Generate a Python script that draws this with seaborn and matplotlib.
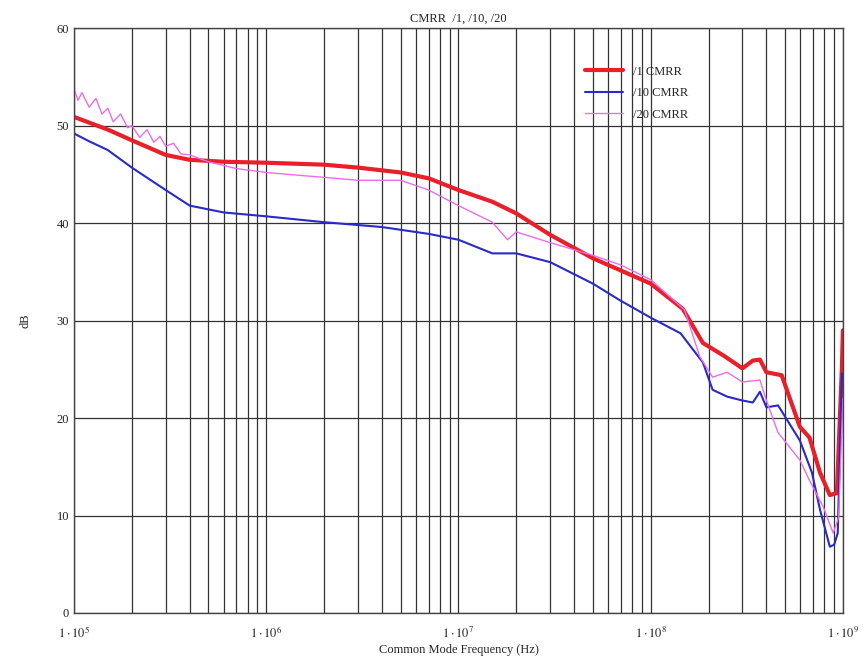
import numpy as np
import pandas as pd
import matplotlib
matplotlib.use("Agg")
import matplotlib.pyplot as plt
import seaborn as sns

# frequencies (Hz) and CMRR (dB)
f1 = [1e5, 1.5e5, 2e5, 3e5, 4e5, 6e5, 1e6, 2e6, 3e6, 5e6, 7e6, 1e7, 1.5e7, 2e7, 3e7,
      5e7, 1e8, 1.47e8, 1.87e8, 2.4e8, 3.0e8, 3.4e8, 3.7e8, 4.0e8, 4.8e8, 5.97e8,
      6.7e8, 7.6e8, 8.55e8, 9.3e8, 9.88e8, 1e9]
cmrr1 = [50.9, 49.6, 48.5, 47.0, 46.5, 46.3, 46.2, 46.0, 45.7, 45.2, 44.6, 43.4, 42.2, 41.0,
         38.8, 36.4, 33.8, 31.2, 27.7, 26.4, 25.1, 25.9, 26.0, 24.7, 24.4, 19.1,
         18.0, 14.4, 12.1, 12.3, 25.2, 29.0]

f10 = [1e5, 1.2e5, 1.5e5, 2e5, 3e5, 4e5, 6e5, 1e6, 2e6, 4e6, 7e6, 1e7, 1.5e7, 2e7, 3e7,
       5e7, 6.9e7, 1e8, 1.43e8, 1.87e8, 2.1e8, 2.5e8, 3.0e8, 3.4e8, 3.7e8, 4.0e8,
       4.6e8, 5.97e8, 6.9e8, 7.6e8, 8.55e8, 9.0e8, 9.4e8, 9.88e8, 1e9]
cmrr10 = [49.2, 48.4, 47.5, 45.7, 43.4, 41.8, 41.1, 40.7, 40.1, 39.6, 38.9, 38.3, 36.9, 36.9,
          36.0, 33.8, 32.1, 30.3, 28.7, 25.7, 22.9, 22.2, 21.8, 21.6, 22.7, 21.1,
          21.3, 17.7, 14.4, 10.6, 6.8, 7.0, 8.2, 24.6, 24.0]

f20 = [1e5, 1.05e5, 1.1e5, 1.2e5, 1.3e5, 1.4e5, 1.5e5, 1.6e5, 1.75e5, 1.9e5, 2e5, 2.2e5,
       2.4e5, 2.6e5, 2.8e5, 3e5, 3.3e5, 3.6e5, 4e5, 5e5, 7e5, 1e6, 1.5e6, 2e6, 3e6,
       5e6, 7e6, 1e7, 1.5e7, 1.8e7, 2e7, 3e7, 5e7, 7e7, 1e8, 1.5e8, 1.8e8, 2.1e8,
       2.5e8, 3.0e8, 3.7e8, 4.0e8, 4.6e8, 5.97e8, 6.7e8, 7.9e8, 8.9e8, 9.5e8, 1e9]
cmrr20 = [53.8, 52.6, 53.4, 51.9, 52.8, 51.2, 51.8, 50.4, 51.2, 49.8, 50.0, 48.8, 49.6, 48.3,
          48.9, 47.9, 48.2, 47.1, 47.0, 46.3, 45.6, 45.2, 44.9, 44.7, 44.4, 44.4, 43.4,
          41.8, 40.1, 38.3, 39.1, 38.0, 36.7, 35.7, 34.2, 31.1, 26.3, 24.2, 24.7, 23.7,
          23.9, 21.8, 18.5, 15.7, 13.6, 10.9, 8.2, 9.8, 22.0]

series = ["/1 CMRR", "/10 CMRR", "/20 CMRR"]
colors = ["#e8202a", "#2a2ac8", "#ec6cec"]
widths = [3.0, 1.5, 1.0]

df = pd.concat([
    pd.DataFrame({"freq": f1, "cmrr": cmrr1, "series": series[0]}),
    pd.DataFrame({"freq": f10, "cmrr": cmrr10, "series": series[1]}),
    pd.DataFrame({"freq": f20, "cmrr": cmrr20, "series": series[2]}),
])

sns.set_style("white")
plt.rcParams['font.family'] = ['Liberation Serif', 'DejaVu Serif']
plt.rcParams['mathtext.fontset'] = 'stix'

fig = plt.figure(figsize=(8.64, 6.66), dpi=100)
ax = fig.add_axes([0.0856, 0.0796, 0.890, 0.878])

for name, c, lw in zip(series, colors, widths):
    sns.lineplot(data=df[df["series"] == name], x="freq", y="cmrr", ax=ax,
                 color=c, linewidth=lw, label=name, estimator=None, sort=False)

ax.set_xscale("log")
ax.set_xlim(1e5, 1e9)
ax.set_ylim(0, 60)
ax.set_yticks([0, 10, 20, 30, 40, 50, 60])
ax.set_xticks([1e5, 1e6, 1e7, 1e8, 1e9])
ax.set_xticklabels([r"$1\cdot10^{%d}$" % e for e in range(5, 10)])
ax.xaxis.set_minor_locator(matplotlib.ticker.LogLocator(base=10, subs=np.arange(2, 10)))
ax.xaxis.set_minor_formatter(matplotlib.ticker.NullFormatter())
ax.grid(True, which="both", axis="x", color="#333333", linewidth=0.9)
ax.grid(True, which="major", axis="y", color="#333333", linewidth=0.9)
ax.set_axisbelow(True)
ax.tick_params(which="both", length=0, labelsize=9, colors="#222222")
ax.tick_params(axis="x", pad=9)
for s in ax.spines.values():
    s.set_color("#444444")
    s.set_linewidth(1.0)

ax.set_xlabel("Common Mode Frequency (Hz)", fontsize=9, labelpad=2)
ax.set_ylabel("dB", fontsize=9, labelpad=18)
ax.set_title("CMRR  /1, /10, /20", fontsize=9, pad=5)

leg = ax.legend(loc="upper left", bbox_to_anchor=(0.65, 0.955), frameon=False,
                fontsize=9, handlelength=3.0, labelspacing=0.75)

fig.savefig("out.png", dpi=100)
